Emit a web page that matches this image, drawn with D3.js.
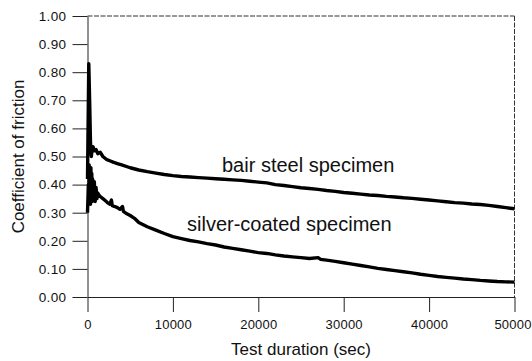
<!DOCTYPE html>
<html>
<head>
<meta charset="utf-8">
<script src="https://cdn.jsdelivr.net/npm/d3@7"></script>
<style>
  body { margin: 0; background: #fff; }
  svg { display: block; font-family: "Liberation Sans", Arial, sans-serif; }
  .axis text { font-size: 13.5px; fill: #111; letter-spacing: 0.4px; }
  .x-axis .tick text { font-size: 13px; letter-spacing: 0.2px; }
  .axis path, .axis line { stroke: #222; stroke-width: 1; }
</style>
</head>
<body>
<div id="wrapper"></div>
<script>
// 1. Data
const steelTime = [0, 150, 250, 350, 450, 550, 650, 800, 1000, 1200, 1500, 1800, 2200, 2600, 3000, 3500, 4000, 5000, 6000, 7000, 8000, 9000, 10000,
  11000, 12000, 13000, 14000, 15000, 16000, 17000, 18000, 19000, 20000, 21000, 22000, 23000, 24000, 25000, 26000, 27000, 28000, 29000, 30000,
  31000, 32000, 33000, 34000, 35000, 36000, 37000, 38000, 39000, 40000, 41000, 42000, 43000, 44000, 45000, 46000, 47000, 48000, 49000, 50000]
const steelCof = [0.42, 0.83, 0.70, 0.55, 0.50, 0.53, 0.535, 0.52, 0.525, 0.51, 0.515, 0.50, 0.49, 0.485, 0.48, 0.475, 0.47, 0.46, 0.452, 0.446, 0.441, 0.436, 0.432,
  0.429, 0.427, 0.425, 0.423, 0.421, 0.419, 0.417, 0.415, 0.412, 0.409, 0.406, 0.400, 0.397, 0.393, 0.389, 0.386, 0.383, 0.379, 0.376, 0.372,
  0.369, 0.366, 0.363, 0.361, 0.358, 0.356, 0.353, 0.351, 0.348, 0.345, 0.342, 0.339, 0.336, 0.334, 0.331, 0.329, 0.326, 0.322, 0.318, 0.314]

const silverTime = [0, 100, 150, 200, 250, 300, 350, 400, 450, 500, 550, 600, 700, 800, 900, 1000, 1100, 1200, 1400, 1600, 1800, 2000, 2300, 2600,
  2800, 2900, 3200, 3500, 3800, 4100, 4200, 4500, 5000, 5500, 6000, 7000, 8000, 9000, 10000, 11000, 12000, 13000, 14000, 15000, 16000, 17000,
  18000, 19000, 20000, 21000, 22000, 23000, 24000, 25000, 26000, 27000, 27300, 28000, 29000, 30000, 31000, 32000, 33000, 34000, 35000, 36000,
  37000, 38000, 39000, 40000, 41000, 42000, 43000, 44000, 45000, 46000, 47000, 48000, 49000, 50000]
const silverCof = [0.30, 0.40, 0.34, 0.47, 0.36, 0.45, 0.33, 0.46, 0.35, 0.44, 0.34, 0.42, 0.35, 0.41, 0.34, 0.39, 0.35, 0.37, 0.36, 0.355, 0.35, 0.345, 0.337, 0.33,
  0.345, 0.325, 0.322, 0.318, 0.312, 0.322, 0.305, 0.298, 0.29, 0.28, 0.265, 0.25, 0.238, 0.226, 0.215, 0.208, 0.201, 0.196, 0.19, 0.185, 0.178, 0.173,
  0.168, 0.163, 0.158, 0.155, 0.15, 0.146, 0.143, 0.14, 0.137, 0.14, 0.134, 0.131, 0.127, 0.122, 0.117, 0.112, 0.107, 0.102, 0.098, 0.094,
  0.09, 0.086, 0.081, 0.077, 0.073, 0.07, 0.067, 0.064, 0.062, 0.059, 0.057, 0.055, 0.054, 0.053]

const xTicks = [0, 10000, 20000, 30000, 40000, 50000]
const yTicks = [0, 0.1, 0.2, 0.3, 0.4, 0.5, 0.6, 0.7, 0.8, 0.9, 1.0]

const steel = steelTime.map((t, i) => ({ t, v: steelCof[i] }))
const silver = silverTime.map((t, i) => ({ t, v: silverCof[i] }))
const xAccessor = d => d.t
const yAccessor = d => d.v

// 2. Dimensions
let dimensions = {
  width: 532,
  height: 361,
  margin: { top: 16, right: 17.5, bottom: 64, left: 87.5 },
}
dimensions.boundedWidth = dimensions.width - dimensions.margin.left - dimensions.margin.right
dimensions.boundedHeight = dimensions.height - dimensions.margin.top - dimensions.margin.bottom

// 3. Canvas
const wrapper = d3.select("#wrapper")
  .append("svg")
  .attr("width", dimensions.width)
  .attr("height", dimensions.height)

const bounds = wrapper.append("g")
  .attr("transform", `translate(${dimensions.margin.left},${dimensions.margin.top})`)

// 4. Scales
const xScale = d3.scaleLinear()
  .domain([0, 50000])
  .range([0, dimensions.boundedWidth])

const yScale = d3.scaleLinear()
  .domain([0, 1])
  .range([dimensions.boundedHeight, 0])

// 5. Frame (top and right edges)
bounds.append("line")
  .attr("x1", 0).attr("x2", dimensions.boundedWidth)
  .attr("y1", 0).attr("y2", 0)
  .attr("stroke", "#333").attr("stroke-dasharray", "5,1.5")
bounds.append("line")
  .attr("x1", dimensions.boundedWidth).attr("x2", dimensions.boundedWidth)
  .attr("y1", 0).attr("y2", dimensions.boundedHeight)
  .attr("stroke", "#333").attr("stroke-dasharray", "5,1.5")

// 6. Axes
const xAxis = bounds.append("g")
  .attr("class", "axis x-axis")
  .attr("transform", `translate(0,${dimensions.boundedHeight})`)
  .call(d3.axisBottom(xScale)
    .tickValues(xTicks)
    .tickFormat(d3.format("d"))
    .tickSize(15)
    .tickSizeOuter(0)
    .tickPadding(8))

// last label sits right at the page edge, nudge it in a bit
xAxis.selectAll(".tick text")
  .filter(d => d === 50000)
  .attr("dx", -2)

const yAxis = bounds.append("g")
  .attr("class", "axis y-axis")
  .call(d3.axisLeft(yScale)
    .tickValues(yTicks)
    .tickFormat(d3.format(".2f"))
    .tickSize(15)
    .tickSizeOuter(0)
    .tickPadding(6))

xAxis.append("text")
  .attr("x", dimensions.boundedWidth / 2)
  .attr("y", 58)
  .attr("text-anchor", "middle")
  .style("font-size", "17px")
  .style("letter-spacing", "0")
  .attr("fill", "#111")
  .text("Test duration (sec)")

yAxis.append("text")
  .attr("transform", "rotate(-90)")
  .attr("x", -dimensions.boundedHeight / 2)
  .attr("y", -dimensions.margin.left + 24)
  .attr("text-anchor", "middle")
  .style("font-size", "17px")
  .style("letter-spacing", "0")
  .attr("fill", "#111")
  .text("Coefficient of friction")

// 7. Data lines
const lineGenerator = d3.line()
  .x(d => xScale(xAccessor(d)))
  .y(d => yScale(yAccessor(d)))

bounds.append("path")
  .datum(steel)
  .attr("d", lineGenerator)
  .attr("fill", "none")
  .attr("stroke", "#000")
  .attr("stroke-width", 3.4)
  .attr("stroke-linejoin", "round")

bounds.append("path")
  .datum(silver)
  .attr("d", lineGenerator)
  .attr("fill", "none")
  .attr("stroke", "#000")
  .attr("stroke-width", 3.4)
  .attr("stroke-linejoin", "round")

// 8. Labels on the curves
bounds.append("text")
  .attr("x", 222 - dimensions.margin.left)
  .attr("y", 172 - dimensions.margin.top)
  .style("font-size", "20px")
  .attr("fill", "#111")
  .text("bair steel specimen")

bounds.append("text")
  .attr("x", 187 - dimensions.margin.left)
  .attr("y", 231 - dimensions.margin.top)
  .style("font-size", "20px")
  .attr("fill", "#111")
  .text("silver-coated specimen")
</script>
</body>
</html>
